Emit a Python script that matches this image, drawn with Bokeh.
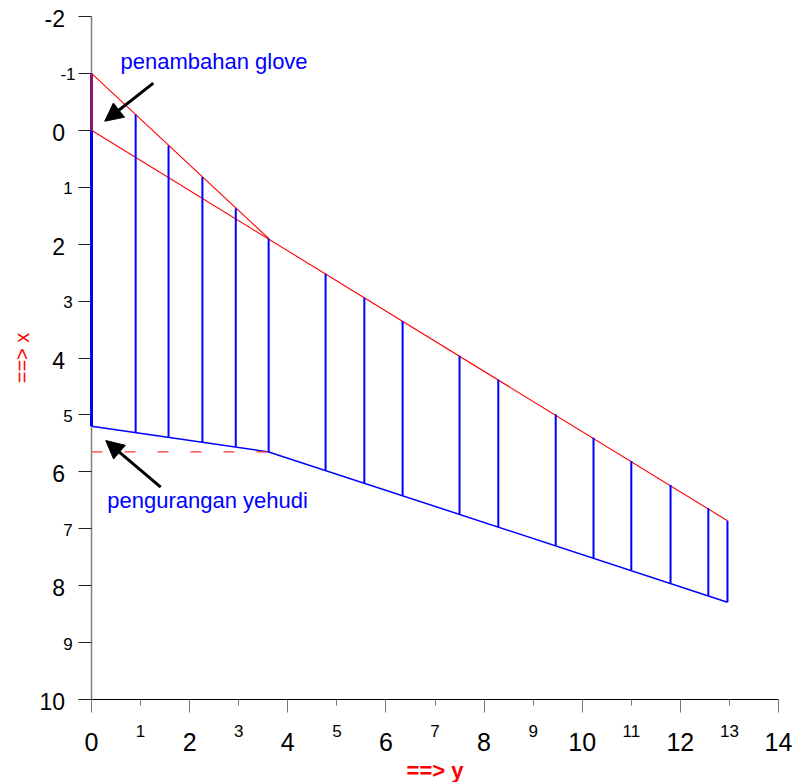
import math
from bokeh.plotting import figure
from bokeh.models import (Range1d, FixedTicker, ColumnDataSource, LabelSet, Label,
                          Arrow, NormalHead)
from bokeh.core.properties import value
from bokeh.embed import file_html
from bokeh.resources import INLINE

# station positions along the section and the two boundaries at each station
station_x = [0.00, 0.90, 1.57, 2.26, 2.94, 3.61, 4.77, 5.56, 6.34, 7.50,
             8.29, 9.46, 10.23, 11.00, 11.80, 12.57, 12.96]
upper_y = [-1.00, -0.28, 0.27, 0.82, 1.37, 1.90, 2.52, 2.94, 3.35, 3.96,
           4.38, 4.99, 5.40, 5.81, 6.23, 6.64, 6.86]
lower_y = [5.20, 5.31, 5.39, 5.48, 5.56, 5.65, 5.98, 6.20, 6.42, 6.75,
           6.97, 7.30, 7.52, 7.73, 7.96, 8.18, 8.29]

# red guide lines
glove_x = [0.00, 3.61]
glove_y = [-1.00, 1.90]
base_x = [0.00, 12.96]
base_y = [0.00, 6.86]
glove_seg_x = [0.00, 0.00]
glove_seg_y = [-1.00, 0.00]

# blue lower boundary
low_x = [0.00, 3.61, 12.96]
low_y = [5.20, 5.65, 8.29]

# dashed reference level
ref_x = [0.00, 3.61]
ref_y = [5.65, 5.65]

# axis extents and ticks
x_lo, x_hi = 0, 14
y_lo, y_hi = -2, 10
x_major = [0, 2, 4, 6, 8, 10, 12, 14]
x_minor = [1, 3, 5, 7, 9, 11, 13]
y_major = [-2, 0, 2, 4, 6, 8, 10]
y_minor = [-1, 1, 3, 5, 7, 9]

# annotations
notes = ["penambahan glove", "pengurangan yehudi"]
note_x = [0.59, 0.32]
note_y = [-1.21, 6.50]
arrow_x0 = [1.26, 1.41]
arrow_y0 = [-0.83, 6.27]
arrow_x1 = [0.27, 0.29]
arrow_y1 = [-0.16, 5.45]

FONT = "Liberation Sans"

# canvas layout in pixels: the axes sit inside a canvas-wide frame
W, H = 793, 782
left_px, right_px, top_px, bottom_px = 91, 15, 16, 83
sx = (W - left_px - right_px) / (x_hi - x_lo)
sy = (H - top_px - bottom_px) / (y_hi - y_lo)

p = figure(width=W, height=H, output_backend="svg", toolbar_location=None,
           x_range=Range1d(x_lo - left_px / sx, x_hi + right_px / sx),
           y_range=Range1d(y_hi + bottom_px / sy, y_lo - top_px / sy),
           min_border=0)
p.outline_line_color = None
p.xgrid.visible = False
p.ygrid.visible = False
p.background_fill_color = "white"
p.border_fill_color = "white"

# axes: ticks from the library, labels set separately so odd/even sizes differ
p.xaxis.fixed_location = y_hi
p.xaxis.bounds = (x_lo, x_hi)
p.xaxis.ticker = FixedTicker(ticks=x_major, minor_ticks=x_minor)
p.xaxis.major_label_overrides = {v: "" for v in x_major}
p.xaxis.major_tick_out = 13
p.xaxis.major_tick_in = 0
p.xaxis.minor_tick_out = 6
p.xaxis.minor_tick_in = 0
p.xaxis.axis_line_color = "black"
p.xaxis.major_tick_line_color = "#777777"
p.xaxis.minor_tick_line_color = "#777777"

p.yaxis.fixed_location = x_lo
p.yaxis.bounds = (y_lo, y_hi)
p.yaxis.ticker = FixedTicker(ticks=y_major + y_minor)
p.yaxis.major_label_overrides = {v: "" for v in y_major + y_minor}
p.yaxis.major_tick_out = 13
p.yaxis.major_tick_in = 0
p.yaxis.minor_tick_line_color = None
p.yaxis.axis_line_color = "#808080"
p.yaxis.axis_line_width = 1.5
p.yaxis.major_tick_line_color = "#222222"

# vertical station lines (the first one, on the axis, drawn heavier)
p.segment(x0=station_x[1:], y0=upper_y[1:], x1=station_x[1:], y1=lower_y[1:],
          line_color="#0000FF", line_width=2, level="overlay")
p.segment(x0=station_x[:1], y0=glove_seg_y[1:], x1=station_x[:1], y1=lower_y[:1],
          line_color="#0000FF", line_width=3, level="overlay")
p.segment(x0=glove_seg_x[:1], y0=glove_seg_y[:1], x1=glove_seg_x[1:], y1=glove_seg_y[1:],
          line_color="#8B1A6B", line_width=3, level="overlay")

# boundaries
p.line(low_x, low_y, line_color="#0000FF", line_width=1.5)
p.line(glove_x, glove_y, line_color="#FF0000", line_width=1.1)
p.line(base_x, base_y, line_color="#FF0000", line_width=1.1)
p.line(ref_x, ref_y, line_color="#FF3333", line_width=1.2,
       line_dash="11 22", line_dash_offset=0)

# tick labels
src_xM = ColumnDataSource(dict(x=x_major, y=[y_hi] * len(x_major), t=[str(v) for v in x_major]))
src_xm = ColumnDataSource(dict(x=x_minor, y=[y_hi] * len(x_minor), t=[str(v) for v in x_minor]))
src_yM = ColumnDataSource(dict(x=[x_lo] * len(y_major), y=y_major, t=[str(v) for v in y_major]))
src_ym = ColumnDataSource(dict(x=[x_lo] * len(y_minor), y=y_minor, t=[str(v) for v in y_minor]))

p.add_layout(LabelSet(x="x", y="y", text="t", source=src_xM, y_offset=-42,
                      text_align="center", text_baseline="middle",
                      text_font=value(FONT), text_font_size="25px", text_color="black"))
p.add_layout(LabelSet(x="x", y="y", text="t", source=src_xm, y_offset=-31,
                      text_align="center", text_baseline="middle",
                      text_font=value(FONT), text_font_size="17px", text_color="black"))
p.add_layout(LabelSet(x="x", y="y", text="t", source=src_yM, x_offset=-26.5, y_offset=-2,
                      text_align="right", text_baseline="middle",
                      text_font=value(FONT), text_font_size="23px", text_color="black"))
p.add_layout(LabelSet(x="x", y="y", text="t", source=src_ym, x_offset=-23.5, y_offset=-1,
                      text_align="center", text_baseline="middle",
                      text_font=value(FONT), text_font_size="17px", text_color="black"))

# axis titles
p.add_layout(Label(x=(x_lo + x_hi) / 2, y=y_hi, y_offset=-71, text="==> y",
                   text_align="center", text_baseline="middle", text_font=FONT,
                   text_font_size="22px", text_font_style="bold", text_color="#FF0000"))
p.add_layout(Label(x=x_lo, y=(y_lo + y_hi) / 2, x_offset=-70, text="==> x",
                   angle=math.pi / 2, text_align="center", text_baseline="middle",
                   text_font=FONT, text_font_size="20px", text_color="#FF0000"))

# notes with arrows
for i in range(len(notes)):
    p.add_layout(Label(x=note_x[i], y=note_y[i], text=notes[i], text_align="left",
                       text_baseline="middle", text_font=FONT, text_font_size="22px",
                       text_color="#0000FF"))
    p.add_layout(Arrow(end=NormalHead(size=18, fill_color="black", line_color="black"),
                       x_start=arrow_x0[i], y_start=arrow_y0[i],
                       x_end=arrow_x1[i], y_end=arrow_y1[i],
                       line_color="black", line_width=3))

open("out.html", "w").write(file_html(p, INLINE))
